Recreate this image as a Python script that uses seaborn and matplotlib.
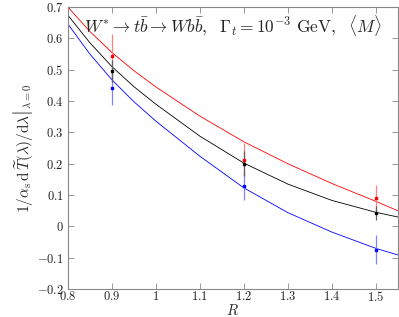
import numpy as np
import pandas as pd
import matplotlib
matplotlib.use("Agg")
import matplotlib.pyplot as plt
import seaborn as sns
from matplotlib.ticker import FuncFormatter, MultipleLocator

# curve values
r_curve = [0.80, 0.85, 0.90, 0.95, 1.00, 1.10, 1.20, 1.30, 1.40, 1.50, 1.55]
red_curve = [0.700, 0.622, 0.555, 0.497, 0.445, 0.352, 0.270, 0.200, 0.137, 0.080, 0.050]
black_curve = [0.674, 0.586, 0.510, 0.446, 0.390, 0.288, 0.202, 0.135, 0.083, 0.045, 0.030]
blue_curve = [0.646, 0.550, 0.468, 0.398, 0.336, 0.224, 0.123, 0.044, -0.018, -0.070, -0.091]

# data points with errors
r_pts = [0.9, 1.2, 1.5]
red_pts = [0.545, 0.213, 0.091]
red_err = [0.070, 0.052, 0.040]
black_pts = [0.496, 0.200, 0.043]
black_err = [0.035, 0.040, 0.022]
blue_pts = [0.443, 0.128, -0.074]
blue_err = [0.055, 0.045, 0.045]

sns.set_style("ticks")
plt.rcParams["mathtext.fontset"] = "cm"
plt.rcParams["font.family"] = ["DejaVu Serif"]

fig = plt.figure(figsize=(3.99, 3.17), dpi=100)
ax = fig.add_axes([0.170, 0.088, 0.827, 0.890])

curves = pd.DataFrame({
    "R": r_curve * 3,
    "val": red_curve + black_curve + blue_curve,
    "set": ["red"] * len(r_curve) + ["black"] * len(r_curve) + ["blue"] * len(r_curve),
})
pal = {"red": "#ff0000", "black": "#000000", "blue": "#0000ff"}
sns.lineplot(data=curves, x="R", y="val", hue="set", palette=pal, ax=ax,
             legend=False, linewidth=0.6, sort=False, estimator=None)

bar_cols = {"red": "#ff8080", "black": "#606060", "blue": "#8080ff"}
for name, pts, err in [("red", red_pts, red_err), ("blue", blue_pts, blue_err),
                       ("black", black_pts, black_err)]:
    ax.errorbar(r_pts, pts, yerr=err, fmt="none", ecolor=bar_cols[name],
                elinewidth=0.9, capsize=0, zorder=3)
for name, pts in [("red", red_pts), ("blue", blue_pts), ("black", black_pts)]:
    ax.plot(r_pts, pts, "s", color=pal[name], markersize=1.6, zorder=4)

ax.set_xlim(0.8, 1.55)
ax.set_ylim(-0.2, 0.7)
ax.xaxis.set_major_locator(MultipleLocator(0.1))
ax.yaxis.set_major_locator(MultipleLocator(0.1))
fmt = FuncFormatter(lambda v, p: "$%g$" % round(v, 2))
ax.xaxis.set_major_formatter(fmt)
ax.yaxis.set_major_formatter(fmt)
ax.tick_params(direction="in", top=True, right=True, length=4, width=0.6,
               color="#888888", labelsize=9, pad=3, labelcolor="#222222")
ax.tick_params(axis="x", pad=1)
for s in ax.spines.values():
    s.set_color("#888888")
    s.set_linewidth(0.8)

ax.set_xlabel("$R$", fontsize=10.5, labelpad=-1)
ax.set_ylabel(r"$\left.1/\alpha_\mathrm{s}\,\mathrm{d}\,\widetilde{T}(\lambda)/\mathrm{d}\lambda\right|_{\lambda=0}$",
              fontsize=11, labelpad=1)
ax.text(0.5, 0.935, r"$W^{*}\to t\bar{b}\to Wb\bar{b},\ \ \Gamma_t = 10^{-3}\ \mathrm{GeV},\ \ \langle M\rangle$",
        transform=ax.transAxes, ha="center", va="center", fontsize=12.5)

fig.savefig("out.png", dpi=100)
